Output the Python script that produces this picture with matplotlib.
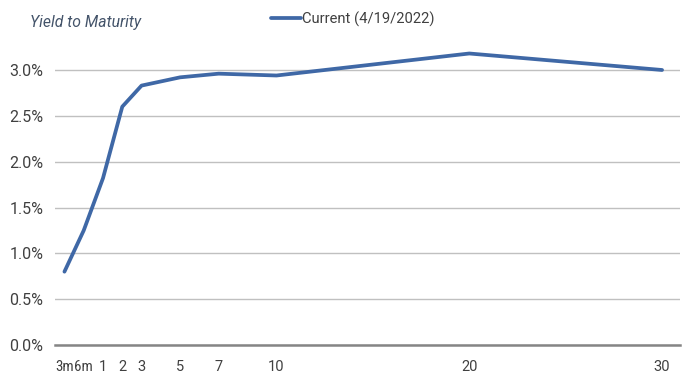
import matplotlib
matplotlib.use("Agg")
import matplotlib.pyplot as plt
from matplotlib.ticker import FuncFormatter

# Data
tenor_labels = ["3m", "6m", "1", "2", "3", "5", "7", "10", "20", "30"]
tenor_pos = [-1, 0, 1, 2, 3, 5, 7, 10, 20, 30]
yields = [0.80, 1.25, 1.82, 2.60, 2.83, 2.92, 2.96, 2.94, 3.18, 3.00]
series_name = "Current (4/19/2022)"
y_ticks = [0.0, 0.5, 1.0, 1.5, 2.0, 2.5, 3.0]

plt.rcParams['font.family'] = ['Roboto', 'DejaVu Sans']

fig = plt.figure(figsize=(6.84, 3.77), dpi=100)
W, H = 684, 377
left, right = 55 / W, 680 / W
y0px, ytop_px = 345, 40
ax = fig.add_axes([left, 1 - y0px / H, right - left, (y0px - ytop_px) / H])
px_per_pct = 275 / 3.0
ax.set_ylim(0, (y0px - ytop_px) / px_per_pct)
ax.set_xlim(-1.49, 30.93)

line_color = "#3F68A6"
ax.plot(tenor_pos, yields, color=line_color, lw=2.7, solid_capstyle="round",
        solid_joinstyle="round", label=series_name)

ax.set_yticks(y_ticks)
ax.yaxis.set_major_formatter(FuncFormatter(lambda v, p: f"{v:.1f}%"))
ax.set_xticks(tenor_pos)
ax.set_xticklabels(tenor_labels)
ax.grid(axis="y", color="#C0C0C0", lw=1.0)
ax.set_axisbelow(True)
for s in ["left", "right", "top"]:
    ax.spines[s].set_visible(False)
ax.spines["bottom"].set_color("#858585")
ax.spines["bottom"].set_linewidth(1.8)
ax.tick_params(axis="both", length=0, colors="#404040")
ax.tick_params(axis="x", pad=11, labelsize=10.5)
ax.tick_params(axis="y", pad=8.5, labelsize=11.5)
# the two short tenors sit close together: use a narrower face for them
for lab in ax.get_xticklabels()[:2]:
    lab.set_fontfamily(['Roboto Condensed', 'Roboto', 'DejaVu Sans'])
    lab.set_fontsize(10.8)

fig.text(30 / W, 1 - 23 / H, "Yield to Maturity", style="italic", fontsize=11.3,
         color="#44546A", va="center", ha="left")
leg = fig.legend(loc="center", bbox_to_anchor=(353 / W, 1 - 19 / H), frameon=False,
                 fontsize=10.6, handlelength=2.0, handletextpad=0.12, borderpad=0)
for t in leg.get_texts():
    t.set_color("#404040")

fig.savefig("out.png", dpi=100)
